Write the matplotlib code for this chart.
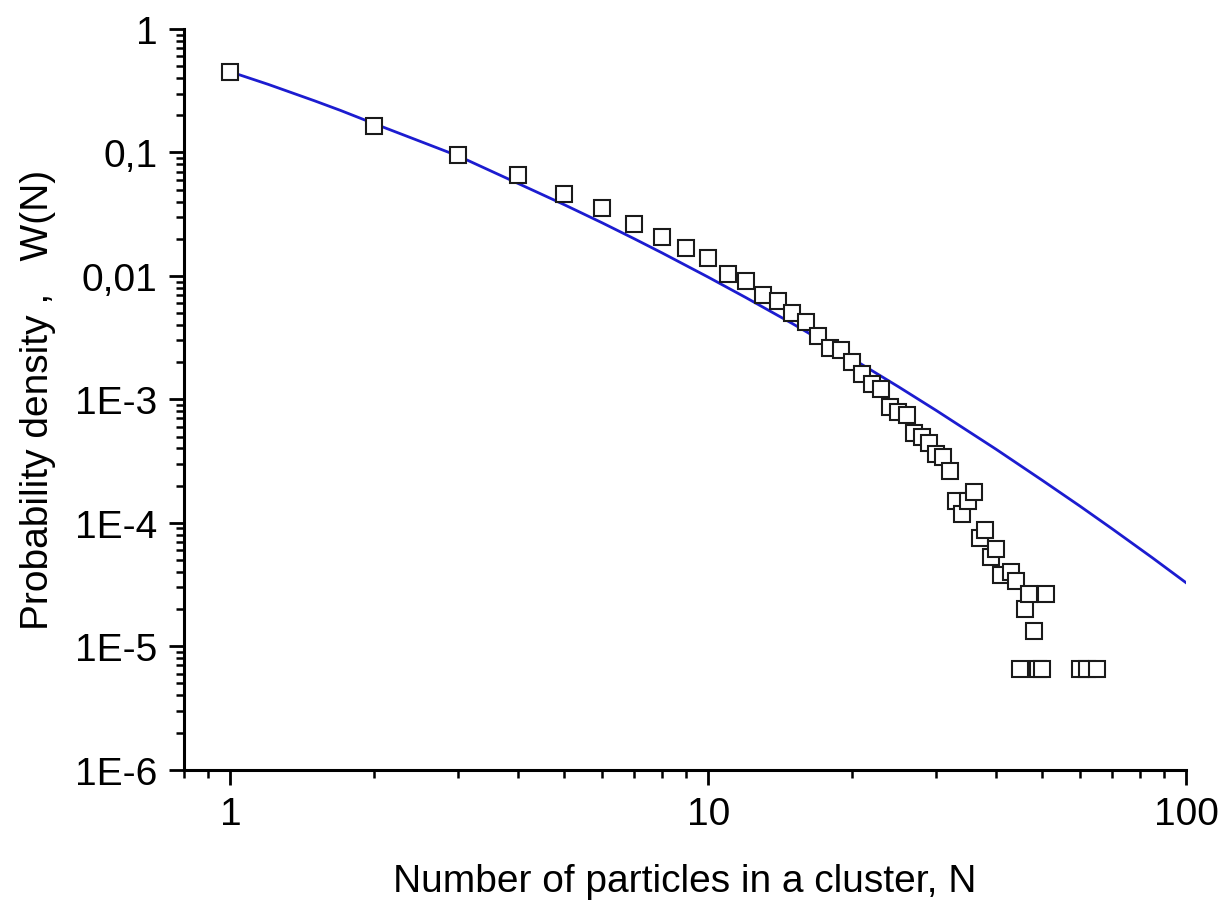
import numpy as np
import matplotlib
matplotlib.use("Agg")
import matplotlib.pyplot as plt
from matplotlib.ticker import FixedLocator, NullFormatter

# measured cluster size distribution
n_points = [1, 2, 3, 4, 5, 6, 7, 8, 9, 10,
            11, 12, 13, 14, 15, 16, 17, 18, 19, 20,
            21, 22, 23, 24, 25, 26, 27, 28, 29, 30,
            31, 32, 33, 34, 35, 36, 37, 38, 39, 40,
            41, 43, 44, 45, 46, 47, 48, 49, 50, 51,
            60, 62, 65]
w_points = [0.451, 0.165, 0.0953, 0.0657, 0.0461, 0.0355, 0.0265, 0.0208, 0.0168, 0.01397,
            0.01035, 0.0091, 0.00705, 0.00622, 0.00498, 0.00421, 0.00324, 0.00259, 0.00252, 0.00199,
            0.0016, 0.00132, 0.00121, 8.6e-4, 7.9e-4, 7.4e-4, 5.3e-4, 5.0e-4, 4.45e-4, 3.6e-4,
            3.4e-4, 2.65e-4, 1.5e-4, 1.18e-4, 1.5e-4, 1.77e-4, 7.6e-5, 8.7e-5, 5.3e-5, 6.1e-5,
            3.8e-5, 4.0e-5, 3.4e-5, 6.6e-6, 2.0e-5, 2.64e-5, 1.32e-5, 6.6e-6, 6.6e-6, 2.64e-5,
            6.6e-6, 6.6e-6, 6.6e-6]

# fitted curve (blue)
n_fit = [1, 1.2, 1.5, 1.7, 2, 2.5, 3, 4, 5, 6, 7, 8, 10, 12, 15, 20,
         25, 30, 40, 50, 60, 70, 85, 100]
w_fit = [0.450, 0.356, 0.262, 0.219, 0.171, 0.1227, 0.0935, 0.0561, 0.0377,
         0.0269, 0.0200, 0.01538, 0.00977, 0.00666, 0.00411, 0.00214,
         0.001266, 8.13e-4, 3.95e-4, 2.21e-4, 1.363e-4, 8.95e-5, 5.21e-5, 3.27e-5]

y_ticks = [1e-6, 1e-5, 1e-4, 1e-3, 1e-2, 1e-1, 1]
y_labels = ["1E-6", "1E-5", "1E-4", "1E-3", "0,01", "0,1", "1"]
x_ticks = [1, 10, 100]
x_labels = ["1", "10", "100"]

plt.rcParams["font.family"] = ["Liberation Sans", "DejaVu Sans"]

fig = plt.figure(figsize=(12.22, 9.03), dpi=100)
ax = fig.add_axes([0.1506, 0.1465, 0.8200, 0.8203])

ax.plot(n_fit, w_fit, color="#1c1cd0", lw=2.0, zorder=2)
ax.plot(n_points, w_points, ls="none", marker="s", ms=11,
        mfc="white", mec="#1a1a1a", mew=1.5, zorder=3)

ax.set_xscale("log")
ax.set_yscale("log")
ax.set_xlim(0.8, 100)
ax.set_ylim(1e-6, 1)

ax.set_xticks(x_ticks)
ax.set_xticklabels(x_labels)
ax.set_yticks(y_ticks)
ax.set_yticklabels(y_labels)

x_minor = [0.8, 0.9] + [k * d for d in (1, 10) for k in range(2, 10)]
ax.xaxis.set_minor_locator(FixedLocator(x_minor))
ax.xaxis.set_minor_formatter(NullFormatter())
y_minor = [k * 10.0 ** e for e in range(-6, 0) for k in range(2, 10)]
ax.yaxis.set_minor_locator(FixedLocator(y_minor))
ax.yaxis.set_minor_formatter(NullFormatter())

for side in ("top", "right"):
    ax.spines[side].set_visible(False)
for side in ("left", "bottom"):
    ax.spines[side].set_linewidth(2.2)
    ax.spines[side].set_color("black")

ax.tick_params(which="major", direction="out", length=11, width=2.0,
               labelsize=28, pad=8)
ax.tick_params(which="minor", direction="out", length=5.5, width=1.8)

ax.set_xlabel("Number of particles in a cluster, N", fontsize=28, labelpad=22)
ax.set_ylabel("Probability density ,   W(N)", fontsize=28, labelpad=14)

fig.savefig("out.png", dpi=100)
